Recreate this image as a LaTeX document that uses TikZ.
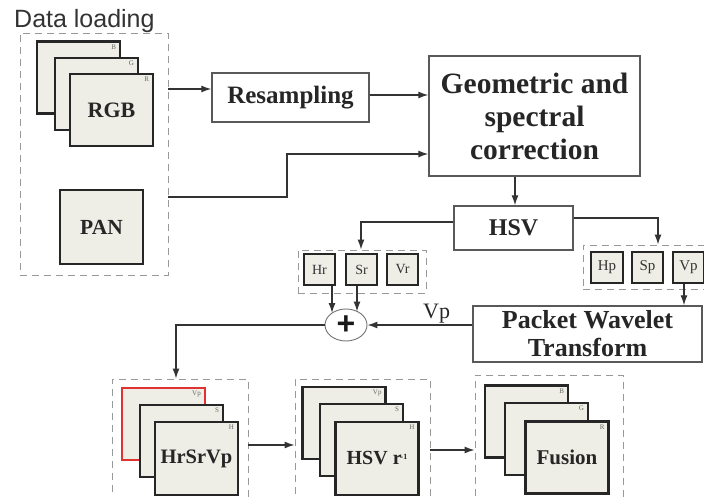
\documentclass[tikz,border=0pt]{standalone}
\usepackage{fontspec}
\setmainfont{Liberation Serif}
\newfontfamily\sansf{Liberation Sans}
\usetikzlibrary{arrows.meta,shapes.geometric}
\definecolor{boxfill}{RGB}{238,238,230}
\definecolor{redline}{RGB}{225,50,50}
\newcommand{\fs}[1]{\fontsize{#1}{#1}\selectfont}
\tikzset{
 layer/.style={draw=black!85, line width=2.4pt, fill=boxfill, minimum width=83pt, minimum height=72pt, inner sep=0pt, text=black!85},
 proc/.style={draw=black!65, line width=1.4pt, fill=white, inner sep=0pt, text=black!85},
 grp/.style={draw=black!40, line width=0.9pt, dash pattern=on 7pt off 5pt, inner sep=0pt},
 cell/.style={draw=black!85, line width=2.2pt, fill=boxfill, minimum width=31pt, minimum height=31pt, inner sep=0pt, text=black!80, font=\fs{14}},
 arr/.style={-{Latex[length=10pt,width=7pt]}, line width=1.3pt, draw=black!80},
 tag/.style={font=\fs{7}, text=black!60, anchor=north east, inner sep=1pt},
}
\begin{document}
\begin{tikzpicture}[x=1pt,y=-1pt]
\useasboundingbox (0,0) rectangle (704,497);
\fill[white] (0,0) rectangle (704,497);

% title
\node[anchor=base west, font=\sansf\fs{25}, text=black!80, inner sep=0pt] (title) at (14,28) {Data loading};

% groups
\node[grp, minimum width=148pt, minimum height=242pt] (dl) at (94,154) {};
\node[grp, minimum width=128pt, minimum height=43pt] (lg) at (362,271.5) {};
\node[grp, minimum width=129pt, minimum height=44pt] (rg) at (647.5,267) {};
\node[grp, minimum width=136pt, minimum height=126pt] (g1) at (180,442) {};
\node[grp, minimum width=135pt, minimum height=126pt] (g2) at (362.5,442) {};
\node[grp, minimum width=148pt, minimum height=130pt] (g3) at (549,440) {};

% RGB stack
\node[layer] (b1) at (78.5,77.5) {};
\node[tag] at ([xshift=-4pt,yshift=-3pt]b1.north east) {B};
\node[layer] (b2) at (96.5,94) {};
\node[tag] at ([xshift=-4pt,yshift=-3pt]b2.north east) {G};
\node[layer, font=\bfseries\fs{22}] (b3) at (111.5,110) {RGB};
\node[tag] at ([xshift=-4pt,yshift=-3pt]b3.north east) {R};

% PAN
\node[layer, minimum height=74pt, font=\bfseries\fs{21.5}] (pan) at (101.5,227) {PAN};

% process boxes
\node[proc, minimum width=157pt, minimum height=49pt, font=\bfseries\fs{25}] (res) at (290.5,97.5) {Resampling};
\node[proc, minimum width=211pt, minimum height=120pt, font=\bfseries\fontsize{29.5}{33}\selectfont, align=center] (geo) at (534.5,116) {Geometric and\\spectral\\correction};
\node[proc, minimum width=119pt, minimum height=44pt, font=\bfseries\fs{24}] (hsv) at (513.5,228) {HSV};
\node[proc, minimum width=229pt, minimum height=56pt, font=\bfseries\fontsize{26}{28}\selectfont, align=center] (pwt) at (587.5,334) {Packet Wavelet\\Transform};

% cells
\node[cell] (hr) at (319.5,269.5) {Hr};
\node[cell] (sr) at (361.5,269.5) {Sr};
\node[cell] (vr) at (402.5,269.5) {Vr};
\node[cell, minimum width=32pt, font=\fs{15}] (hp) at (607,267.5) {Hp};
\node[cell, font=\fs{15}] (sp) at (647.5,267.5) {Sp};
\node[cell, font=\fs{15}] (vp) at (688.5,267.5) {Vp};

% plus
\node[ellipse, draw=black!55, line width=0.9pt, fill=white, minimum width=42pt, minimum height=32pt, inner sep=0pt, font=\sansf\bfseries\fs{32}, text=black!90] (plus) at (346,325) {+};

% HrSrVp stack
\node[layer, draw=redline, line width=2pt] (c1) at (163.5,424) {};
\node[tag] at ([xshift=-4pt,yshift=-3pt]c1.north east) {Vp};
\node[layer] (c2) at (181.5,441) {};
\node[tag] at ([xshift=-4pt,yshift=-3pt]c2.north east) {S};
\node[layer, minimum height=73pt, font=\bfseries\fs{20.5}] (c3) at (196.5,458.5) {HrSrVp};
\node[tag] at ([xshift=-4pt,yshift=-3pt]c3.north east) {H};

% HSV stack
\node[layer] (d1) at (344,423) {};
\node[tag] at ([xshift=-4pt,yshift=-3pt]d1.north east) {Vp};
\node[layer] (d2) at (361.5,440) {};
\node[tag] at ([xshift=-4pt,yshift=-3pt]d2.north east) {S};
\node[layer, minimum height=73pt, font=\bfseries\fs{20}] (d3) at (377,458.5) {HSV r\kern-1pt\raisebox{5pt}{\fs{8}-1}};
\node[tag] at ([xshift=-4pt,yshift=-3pt]d3.north east) {H};

% Fusion stack
\node[layer] (f1) at (526.5,421.5) {};
\node[tag] at ([xshift=-4pt,yshift=-3pt]f1.north east) {B};
\node[layer] (f2) at (546.5,439) {};
\node[tag] at ([xshift=-4pt,yshift=-3pt]f2.north east) {G};
\node[layer, font=\bfseries\fs{21}] (f3) at (567,457.5) {Fusion};
\node[tag] at ([xshift=-4pt,yshift=-3pt]f3.north east) {R};

% helper coordinates
\coordinate (r1) at (0,89);
\coordinate (r2) at (0,95);
\coordinate (pa) at (287,197);
\coordinate (pb) at (287,154);
\coordinate (h0) at (515,0);
\coordinate (h1) at (361,222);
\coordinate (h2) at (658,218);
\coordinate (v1) at (684,0);
\coordinate (e1) at (332,313);
\coordinate (e2) at (357,311.5);
\coordinate (dd) at (176,0);
\coordinate (m1) at (0,445);
\coordinate (m2) at (0,450);

% connectors
\draw[arr] (dl.east |- r1) -- (res.west |- r1);
\draw[arr] (res.east |- r2) -- (geo.west |- r2);
\draw[arr] (dl.east |- pa) -- (pa) -- (pb) -- (geo.west |- pb);
\draw[arr] (geo.south -| h0) -- (hsv.north -| h0);
\draw[arr] (hsv.west |- h1) -| (lg.north -| h1);
\draw[arr] (hsv.east |- h2) -| (rg.north -| h2);
\draw[arr] (vp.south -| v1) -- (pwt.north -| v1);
\draw[arr] (hr.south -| e1) -- (e1);
\draw[arr] (sr.south -| e2) -- (e2);
\draw[arr] (pwt.west |- plus) -- node[above, pos=0.34, font=\fs{22}, text=black!85, inner sep=1pt] (vplabel) {Vp} (plus.east);
\draw[arr] (plus.west) -| (g1.north -| dd);
\draw[arr] (g1.east |- m1) -- (g2.west |- m1);
\draw[arr] (g2.east |- m2) -- (g3.west |- m2);
\end{tikzpicture}
\end{document}
